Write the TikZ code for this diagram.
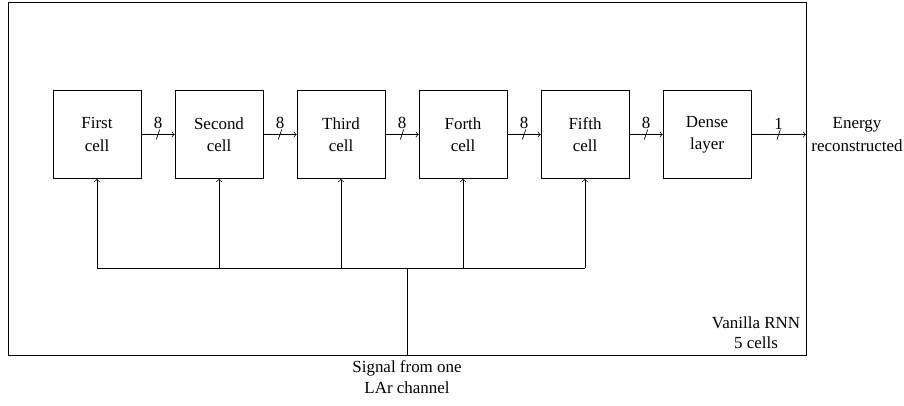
\documentclass[tikz,border=0pt]{standalone}
\usepackage{fontspec}
\setmainfont{LiberationSerif}[Extension=.ttf, UprightFont=*-Regular, BoldFont=*-Bold]
\usepackage{tikz}
\usetikzlibrary{calc}
\tikzset{cellbox/.style={draw, minimum size=51.9pt, inner sep=2pt, align=center},
         widthlab/.style={above, inner sep=3pt}}
\newcommand{\rnncell}[3]{\node[cellbox] (#1) at ( #2 , 134.5 ) {#3};}
\newcommand{\sizedlink}[4]{\draw[->] (#1) -- (#2) coordinate[midway] (#3);
  \draw ($(#3)+(-1.7,5)$) -- ($(#3)+(1.7,-5)$);
  \node[widthlab] (#3lab) at (#3) {#4};}
\newcommand{\feedup}[1]{\draw[->] (#1 |- bus) -- (#1.south);}

\begin{document}
\begin{tikzpicture}[x=0.59pt, y=-0.59pt]
\useasboundingbox (0,0) rectangle (904,405);
% frame round the network
\draw (8,2) rectangle (806,355);
\coordinate (frameSE) at (806,355);
\coordinate (out) at (806,134.5);
\coordinate (bus) at (407,268);
% row of cells
\rnncell{c1}{97}{First\\[1.2pt]cell}
\rnncell{c2}{219}{Second\\[1.2pt]cell}
\rnncell{c3}{341}{Third\\[1.2pt]cell}
\rnncell{c4}{463}{Forth\\[1.2pt]cell}
\rnncell{c5}{585}{Fifth\\[1.2pt]cell}
\rnncell{dense}{707}{Dense\\[1.2pt]layer}
% links between cells
\sizedlink{c1.east}{c2.west}{m1}{8}
\sizedlink{c2.east}{c3.west}{m2}{8}
\sizedlink{c3.east}{c4.west}{m3}{8}
\sizedlink{c4.east}{c5.west}{m4}{8}
\sizedlink{c5.east}{dense.west}{m5}{8}
\sizedlink{dense.east}{out}{m6}{1}
% labels
\node[align=center] (energy) at (857,134.5) {Energy\\[1.2pt]reconstructed};
\node[anchor=south east, align=center] (rnn) at (frameSE) {Vanilla RNN\\5 cells};
\node[anchor=north, align=center] (sig) at (407,355) {Signal from one\\LAr channel};
% input bus
\draw (sig.north) -- (bus);
\draw (c1 |- bus) -- (c5 |- bus);
\feedup{c1}
\feedup{c2}
\feedup{c3}
\feedup{c4}
\feedup{c5}
\end{tikzpicture}
\end{document}
